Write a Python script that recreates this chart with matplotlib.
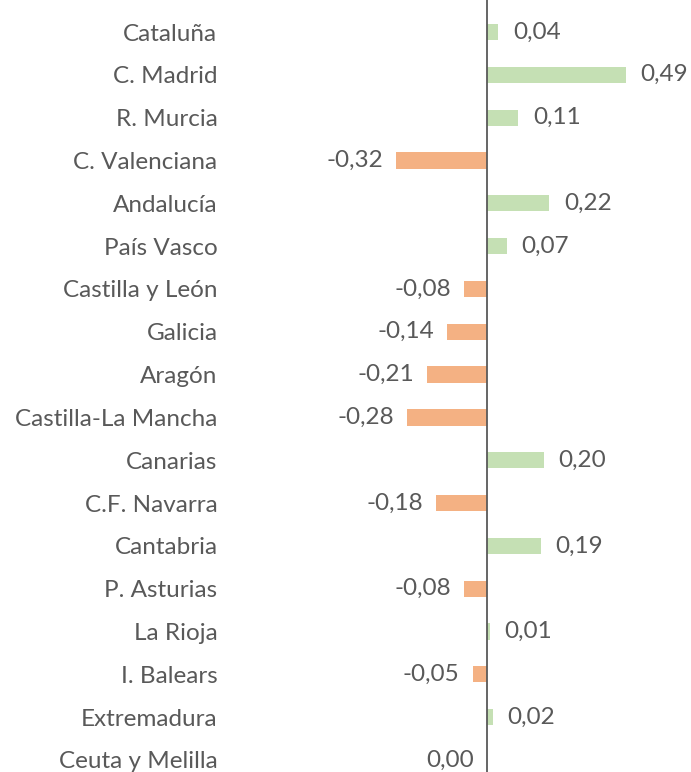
import matplotlib
matplotlib.use('Agg')
from matplotlib import pyplot as plt

regions = ['Cataluña', 'C. Madrid', 'R. Murcia', 'C. Valenciana', 'Andalucía',
           'País Vasco', 'Castilla y León', 'Galicia', 'Aragón',
           'Castilla-La Mancha', 'Canarias', 'C.F. Navarra', 'Cantabria',
           'P. Asturias', 'La Rioja', 'I. Balears', 'Extremadura',
           'Ceuta y Melilla']
values = [0.04, 0.49, 0.11, -0.32, 0.22, 0.07, -0.08, -0.14, -0.21, -0.28,
          0.20, -0.18, 0.19, -0.08, 0.01, -0.05, 0.02, 0.00]

green = '#C5E0B4'
orange = '#F4B183'
grey = '#595959'

plt.rcParams['font.family'] = ['Lato', 'DejaVu Sans']

fig = plt.figure(figsize=(6.91, 7.72), dpi=100)
ax = fig.add_axes([230 / 691, 0, 461 / 691, 1])

pos = list(range(len(regions)))
colors = [green if v > 0 else orange for v in values]
ax.barh(pos, values, height=0.38, color=colors)

for y, v in zip(pos, values):
    txt = f'{v:.2f}'.replace('.', ',')
    if v > 0:
        ax.annotate(txt, (v, y), xytext=(10.5, 0), textcoords='offset points',
                    ha='left', va='center', fontsize=17.5, color=grey)
    else:
        ax.annotate(txt, (v, y), xytext=(-9.5, 0), textcoords='offset points',
                    ha='right', va='center', fontsize=17.5, color=grey)

ax.set_yticks(pos)
ax.set_yticklabels(regions, fontsize=17.5, color=grey)
ax.tick_params(axis='y', length=0, pad=9)
ax.set_xticks([])

ax.set_xlim((230 - 487) / 284, (691 - 487) / 284)
ax.set_ylim(17 + 12 / 42.82, -32 / 42.82)

for s in ['top', 'right', 'bottom', 'left']:
    ax.spines[s].set_visible(False)
ax.axvline(0, color=grey, linewidth=1.3)

fig.savefig('out.png', dpi=100)
